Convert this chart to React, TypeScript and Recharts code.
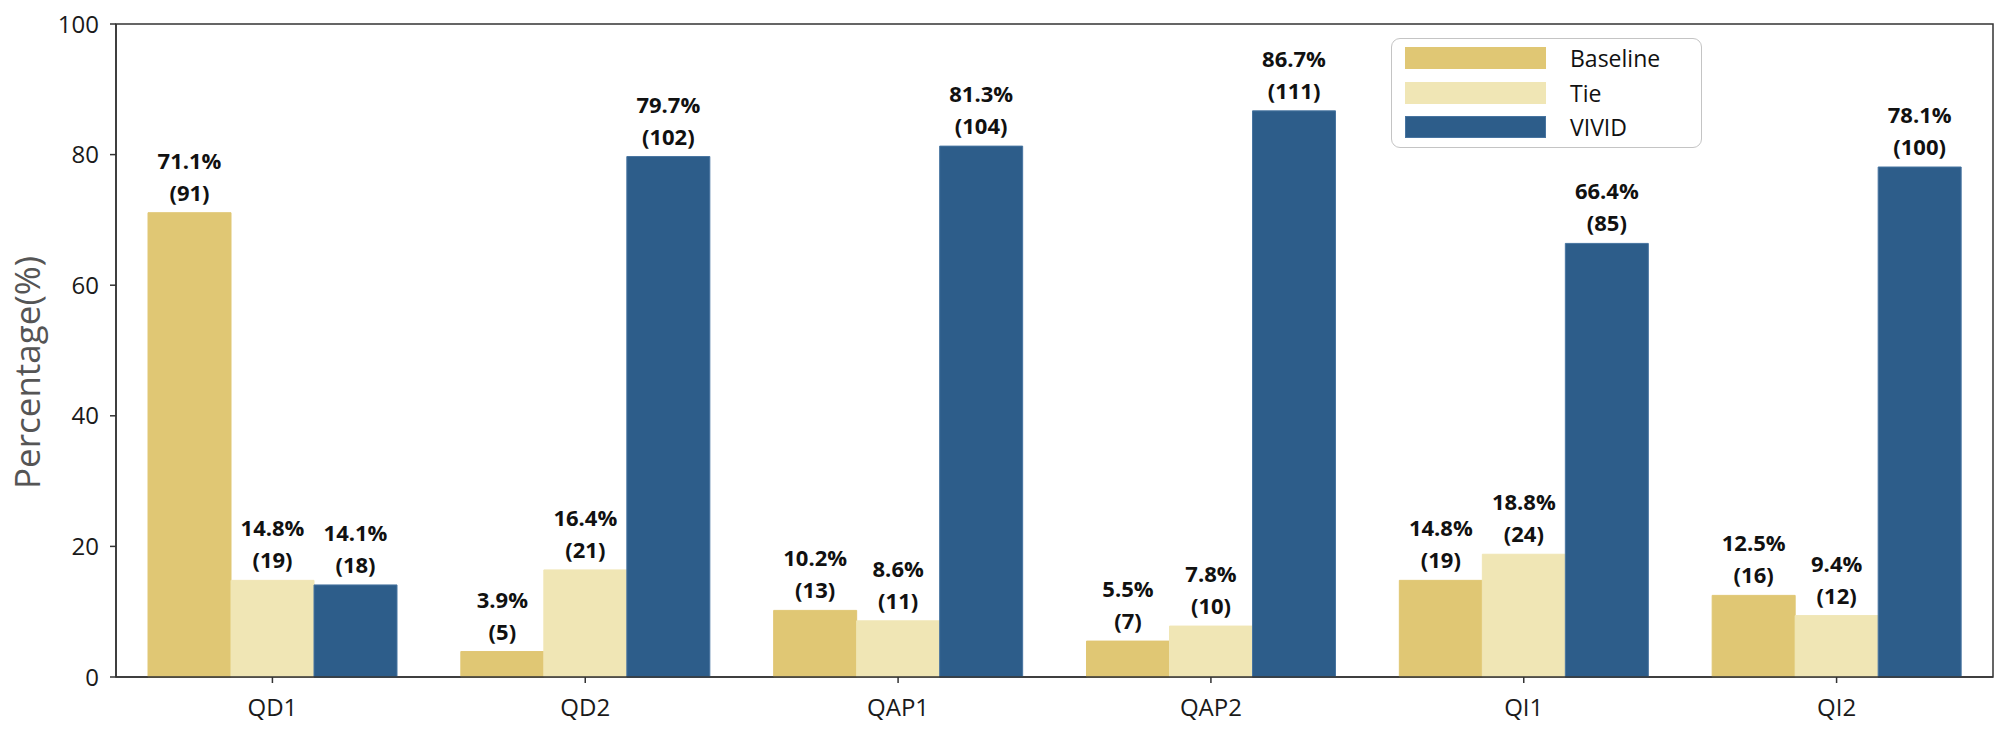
import React from 'react';
import { BarChart, Bar, XAxis, YAxis, LabelList, Legend, ReferenceArea } from 'recharts';

const categories = ['QD1', 'QD2', 'QAP1', 'QAP2', 'QI1', 'QI2'];
const baselinePct = [71.1, 3.9, 10.2, 5.5, 14.8, 12.5];
const baselineCnt = [91, 5, 13, 7, 19, 16];
const tiePct = [14.8, 16.4, 8.6, 7.8, 18.8, 9.4];
const tieCnt = [19, 21, 11, 10, 24, 12];
const vividPct = [14.1, 79.7, 81.3, 86.7, 66.4, 78.1];
const vividCnt = [18, 102, 104, 111, 85, 100];
const yTicks = [0, 20, 40, 60, 80, 100];

const seriesNames = ['Baseline', 'Tie', 'VIVID'];
const COLORS = { Baseline: '#E0C774', Tie: '#F0E6B5', VIVID: '#2D5D8A' };
const EDGES = { Baseline: '#E0C774', Tie: '#F0E6B5', VIVID: '#4774A0' };

const data = categories.map((name, i) => ({
  name,
  Baseline: baselinePct[i],
  Tie: tiePct[i],
  VIVID: vividPct[i],
}));

const counts: Record<string, number[]> = { Baseline: baselineCnt, Tie: tieCnt, VIVID: vividCnt };
const pcts: Record<string, number[]> = { Baseline: baselinePct, Tie: tiePct, VIVID: vividPct };

const FONT = '"Open Sans", "Noto Sans", sans-serif';

const makeLabel = (key: string) => (props: any) => {
  const { x, y, width, index } = props;
  const cx = Number(x) + Number(width) / 2;
  const top = Number(y);
  return (
    <g>
      <text x={cx} y={top - 44} textAnchor="middle" fontFamily={FONT} fontWeight={700} fontSize={22} fill="#111">
        {pcts[key][index].toFixed(1)}%
      </text>
      <text x={cx} y={top - 12} textAnchor="middle" fontFamily={FONT} fontWeight={700} fontSize={22} fill="#111">
        ({counts[key][index]})
      </text>
    </g>
  );
};

const renderLegend = () => (
  <div
    style={{
      boxSizing: 'border-box',
      width: 311,
      height: 110,
      border: '1.5px solid #c4c4c4',
      borderRadius: 9,
      background: '#fff',
      paddingTop: 2,
      paddingLeft: 13,
      fontFamily: FONT,
      fontSize: 23,
      color: '#111',
    }}
  >
    {seriesNames.map((n) => (
      <div key={n} style={{ display: 'flex', alignItems: 'center', height: 34.5 }}>
        <div style={{ width: 141, height: 22, background: (COLORS as any)[n], boxSizing: 'border-box', border: `1px solid ${(EDGES as any)[n]}` }} />
        <span style={{ marginLeft: 24, lineHeight: '22px' }}>{n}</span>
      </div>
    ))}
  </div>
);

const YLabel = (props: any) => {
  const vb = props.viewBox || {};
  const cy = Number(vb.y) + Number(vb.height) / 2 + 22;
  return (
    <text
      x={40}
      y={cy}
      transform={`rotate(-90, 40, ${cy})`}
      textAnchor="middle"
      fontFamily={FONT}
      fontSize={35}
      fill="#555"
    >
      Percentage(%)
    </text>
  );
};

export default function App() {
  return (
    <div style={{ position: 'absolute', left: 0, top: 0, width: 2000, height: 737, background: '#fff' }}>
      <BarChart
        width={2000}
        height={737}
        data={data}
        margin={{ top: 24, right: 7, bottom: 10, left: 36 }}
        barGap={0}
        barSize={83}
      >
        <XAxis
          dataKey="name"
          height={50}
          tickSize={6}
          tickMargin={16}
          axisLine={{ stroke: '#333', strokeWidth: 1.5 }}
          tickLine={{ stroke: '#333', strokeWidth: 1.5 }}
          tick={{ fontFamily: FONT, fontSize: 24, fill: '#1a1a1a' }}
        />
        <YAxis
          width={80}
          domain={[0, 100]}
          ticks={yTicks}
          tickSize={6}
          tickMargin={11}
          axisLine={{ stroke: '#333', strokeWidth: 1.5 }}
          tickLine={{ stroke: '#333', strokeWidth: 1.5 }}
          tick={{ fontFamily: FONT, fontSize: 24, fill: '#1a1a1a' }}
          label={<YLabel />}
        />
        <Legend
          layout="vertical"
          align="center"
          verticalAlign="middle"
          content={renderLegend}
          wrapperStyle={{ left: 1391, top: 38, right: 'auto', bottom: 'auto', width: 311, height: 110 }}
        />
        {seriesNames.map((n) => (
          <Bar
            key={n}
            dataKey={n}
            fill={(COLORS as any)[n]}
            stroke={(EDGES as any)[n]}
            strokeWidth={1}
            isAnimationActive={false}
          >
            <LabelList dataKey={n} content={makeLabel(n)} />
          </Bar>
        ))}
        <ReferenceArea
          x1={categories[0]}
          x2={categories[categories.length - 1]}
          y1={0}
          y2={100}
          fill="none"
          fillOpacity={0}
          stroke="#333"
          strokeWidth={1.5}
          ifOverflow="visible"
        />
      </BarChart>
    </div>
  );
}
